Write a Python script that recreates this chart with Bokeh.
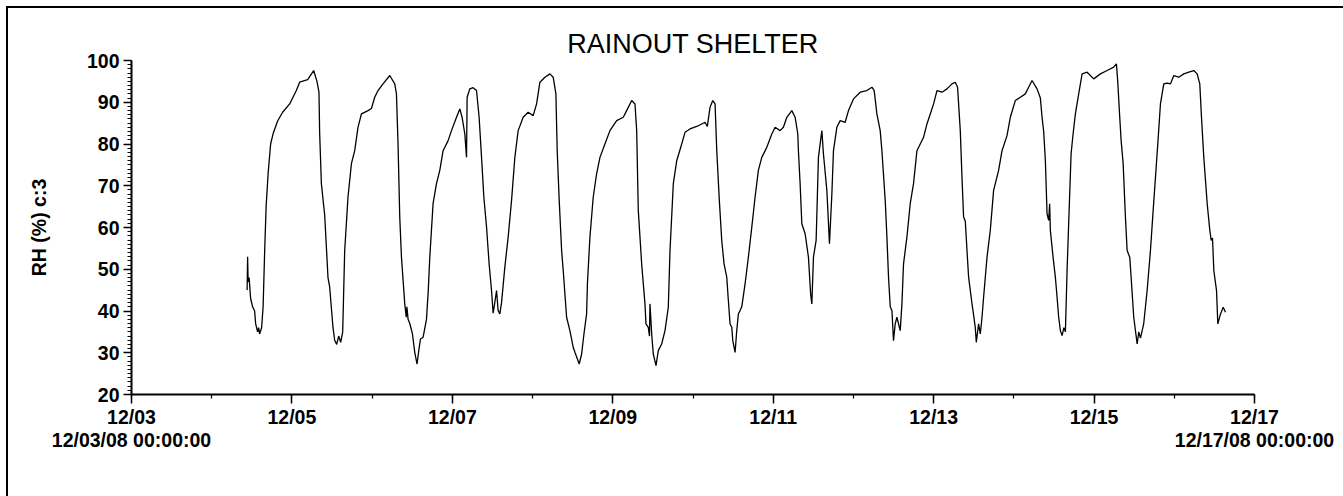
import pandas as pd
from bokeh.plotting import figure
from bokeh.models import Range1d, FixedTicker, DatetimeTickFormatter
from bokeh.embed import file_html
from bokeh.resources import INLINE

# Logger start and end of the display window
START = pd.Timestamp("2008-12-03 00:00:00")
END = pd.Timestamp("2008-12-17 00:00:00")

# Elapsed time (hours since START) and relative humidity readings (%)
elapsed_h = [
    34.59, 34.74, 34.89, 35.19, 35.64, 36.24, 36.84, 37.14, 37.73, 38.03, 38.33, 38.93,
    39.38, 39.83, 40.28, 40.88, 41.63, 42.38, 43.72, 45.22, 47.32, 49.32, 50.31, 52.71,
    54.51, 55.49, 56.09, 56.30, 56.81, 57.80, 58.79, 59.30, 60.29, 60.79, 61.39, 61.99,
    62.59, 63.19,
    63.34, 63.79, 64.78, 65.80, 66.78, 67.77, 68.79, 70.77, 71.79, 72.77, 73.76, 75.26,
    77.27, 78.76, 79.27, 79.75, 80.26, 80.77, 81.76, 82.20, 82.40, 82.75, 83.26, 84.06,
    84.75, 85.44, 85.95, 86.46, 87.24, 88.26,
    88.80, 89.25, 90.23, 91.25, 92.24, 93.23, 94.73, 95.74, 97.24, 98.23, 98.92, 99.73,
    100.24, 100.42, 101.22, 102.21, 103.23, 104.01, 104.73, 105.42, 106.23, 107.00,
    107.72, 108.20, 108.70, 109.22, 109.70, 110.20, 110.72, 111.70, 112.70, 113.71,
    114.70, 115.69, 117.19, 118.69,
    120.18, 121.20, 122.19, 123.69, 125.18, 126.17, 126.98, 127.37, 127.97, 128.69,
    129.17, 130.18, 131.17, 132.16, 132.67, 133.96, 134.68, 135.37, 136.17,
    136.41, 137.16, 138.15, 139.17, 140.16, 141.65, 143.15, 145.16, 147.13, 148.15,
    149.65, 150.64, 151.15, 151.63, 152.64, 153.63, 153.93, 154.62, 154.98, 155.13,
    155.64, 156.12, 156.93, 157.62, 158.63, 159.62, 160.61,
    161.12, 162.11, 163.13, 164.62, 165.61, 167.11, 169.11, 170.61, 171.60, 172.29,
    173.10, 173.91, 174.60, 175.11, 175.88, 176.60, 177.29, 178.10, 178.58, 179.09,
    179.60, 179.90, 180.59, 181.09, 181.57, 182.08, 182.59,
    183.58, 184.57, 185.59, 186.58, 187.56, 188.58, 190.08, 191.58, 192.57, 194.06,
    195.05, 196.07, 197.57, 198.56, 199.36, 199.54, 200.05, 200.56, 201.55, 202.54,
    203.20, 203.56, 204.04, 204.84, 205.53, 206.55, 207.03, 208.05, 208.83, 209.55,
    210.03, 211.04, 212.03, 213.53, 214.52, 216.02, 218.02, 220.03, 221.53, 222.21,
    223.02, 224.01, 224.52, 225.51, 226.02, 226.50, 227.01, 227.52, 227.99, 228.50,
    229.01, 230.00, 230.51,
    230.99, 232.00, 232.99, 233.98, 235.00, 235.99, 236.98, 238.00, 238.99, 239.98,
    241.00, 242.49, 243.99, 245.48, 246.47, 247.16, 247.97, 248.48, 248.96, 249.47,
    249.98, 250.46, 251.48, 251.96, 252.46, 252.76, 253.45, 253.96, 254.47,
    254.95, 255.97, 256.95, 257.94, 259.44, 260.46, 261.95, 262.94, 264.44, 265.94,
    267.44, 268.42, 269.44, 270.94, 271.93, 272.44, 272.92, 273.43, 273.93, 274.42,
    274.71, 274.92, 275.73, 276.42, 276.93, 277.41, 277.92, 278.43, 278.97, 279.42,
    279.92, 280.40, 281.12, 281.72, 282.41, 283.40, 284.42, 285.91, 286.90, 287.89,
    289.90, 291.90, 293.88, 294.69, 295.08, 295.68, 296.10, 296.70, 297.38, 297.89,
    298.67, 299.09, 299.87, 300.89, 301.37, 301.88, 302.86,
    303.88, 304.87, 305.68, 306.37, 307.06, 307.86, 308.85, 309.87, 310.86, 311.85,
    313.35, 314.85, 316.34, 317.84, 318.85, 319.63, 320.14, 320.83, 321.85, 322.63,
    323.05, 323.44, 323.83, 324.64, 325.03, 325.39, 325.83, 326.64, 327.33,
]
rh = [
    45, 53, 47, 48, 43, 41, 40, 37, 35, 36, 34.5, 36,
    41, 54, 65, 73, 80, 82.5, 85.5, 87.6, 89.6, 92.8, 94.8, 95.4,
    97.6, 95, 92.4, 82.5, 70.5, 63, 48, 45.7, 36, 33, 32, 34,
    32.5, 35,
    40, 54.5, 67.3, 75.3, 78.4, 84, 87.2, 88, 88.5, 91.2, 92.8, 94.4,
    96.4, 94.4, 92, 80, 62.5, 52.9, 41.7, 38.5, 41, 38, 37, 34.5,
    30.1, 27.3, 30.5, 33.3, 33.7, 38,
    45, 52.9, 65.7, 70.5, 73.7, 78.4, 80.8, 83.2, 86.4, 88.4, 86.4, 82.4,
    76.8, 91.2, 93.2, 93.5, 92.8, 86.4, 76.8, 67.3, 60.1, 51.3,
    44.9, 39.5, 42, 44.9, 40.1, 39.3, 42, 50.5, 57.7, 66.5,
    76.8, 83.2, 86.4, 87.6,
    86.8, 89.6, 94.8, 96, 96.8, 96, 92, 78.4, 66.5, 54.5,
    49.7, 38.5, 35.3, 31.3, 30.1, 27.3, 29.7, 34.5, 39.3,
    46.5, 57.7, 67.3, 72.9, 76.8, 80, 83.2, 85.6, 86.4, 88,
    90.4, 89.6, 83.2, 64.1, 51.3, 41.7, 36.9, 36.1, 34, 41.7,
    34.5, 29.7, 26.9, 30.5, 32.1, 35.3, 40.9,
    54.5, 70.5, 76, 80, 82.8, 83.6, 84.2, 84.8, 85.2, 84.2,
    88.8, 90.4, 89.6, 78.4, 66.5, 56.9, 51.3, 48.1, 42.5, 36.9,
    36.1, 32.9, 30.1, 35.3, 39.3, 40.1, 41,
    46.5, 52.9, 60.1, 67.3, 73.7, 76.8, 79.2, 82.4, 84, 83.2,
    84, 86.4, 88, 86.4, 82.4, 78.4, 70.5, 60.9, 58.5, 52.9,
    44, 41.7, 52.9, 56.9, 76.8, 83.2, 77.6, 68.9, 56.1, 68.1,
    78.4, 84, 85.6, 85.2, 88, 90.8, 92.4, 92.8, 93.6, 92.8,
    87.2, 83.2, 78.4, 66.5, 57.7, 48.1, 41, 40.1, 32.9, 36.9,
    38.5, 35.3, 41.7,
    51.3, 57.7, 65.7, 70.5, 78.4, 80, 81.6, 84.8, 87.2, 89.6,
    92.8, 92.4, 93.2, 94.4, 94.8, 93.6, 83.2, 72, 62.5, 61.5,
    54.5, 48.1, 41.7, 39, 36, 32.5, 36.9, 34.5, 38.5,
    43.3, 52.9, 59.3, 68.9, 73.7, 78.4, 82, 86.4, 90.4, 91.2,
    92, 93.6, 95.2, 93.2, 91, 86.4, 83, 76, 63.3, 61.7,
    65.7, 59.3, 52.9, 48.1, 43.3, 38.5, 35.3, 34.1, 36, 35,
    49.7, 60.9, 77.6, 82.4, 87.2, 92, 96.8, 97.2, 96.4, 95.6,
    96.8, 97.6, 98.4, 99.2, 95, 86.4, 80.8, 75.3, 62.5, 54.5,
    52.9, 48.1, 38.5, 32.1, 35, 33.5, 37,
    44.9, 54.5, 64.1, 72, 80, 89.6, 94.4, 94.6, 94.4, 96.4,
    96, 96.8, 97.2, 97.6, 96.8, 94.4, 86.4, 76.8, 65.7, 59.3,
    56.9, 57.5, 49.7, 44.9, 36.9, 38, 39.3, 40.9, 39.7,
]

# y axis ticks: labelled every 10 %, small tick every 1 %
rh_major = [20, 30, 40, 50, 60, 70, 80, 90, 100]
rh_minor = list(range(20, 101))

# full date-time stamps printed under the first and last day ticks
span_labels = ["12/03/08 00:00:00", "12/17/08 00:00:00"]

times = START + pd.to_timedelta(elapsed_h, unit="h")


def to_ms(ts):
    return float(ts.value // 10**6)


# Day ticks: labelled every second day, plain tick on the others
major_days = pd.date_range(START, END, freq="2D")
minor_days = pd.date_range(START, END, freq="1D")
major_ms = [to_ms(d) for d in major_days]
minor_ms = [to_ms(d) for d in minor_days]

FONT = "Liberation Sans"

p = figure(
    width=1343, height=496,
    x_axis_type="datetime",
    x_range=Range1d(START, END),
    y_range=Range1d(20, 100),
    title="RAINOUT SHELTER",
    output_backend="svg",
    toolbar_location=None,
    min_border_left=131, min_border_right=89,
    min_border_top=60, min_border_bottom=102,
)
# page rules along the top and left edges, pinned to the page origin
p.styles = {
    "background": ("linear-gradient(#000, #000) 6px 6px / 2px 490px no-repeat fixed, "
                   "linear-gradient(#000, #000) 6px 6px / 1337px 2px no-repeat fixed, #fff"),
}
p.background_fill_color = "white"
p.border_fill_color = None
p.outline_line_color = None
p.xgrid.visible = False
p.ygrid.visible = False

p.title.align = "center"
p.title.text_font = FONT
p.title.text_font_size = "27px"
p.title.text_font_style = "normal"
p.title.text_color = "black"
p.title.standoff = 4

p.line(times, rh, line_color="black", line_width=1.3)

# y axis
ya = p.yaxis[0]
ya.ticker = FixedTicker(ticks=rh_major, minor_ticks=rh_minor)
ya.axis_label = "RH (%) c:3"
ya.axis_label_text_font = FONT
ya.axis_label_text_font_style = "bold"
ya.axis_label_text_font_size = "19.5px"
ya.axis_label_text_color = "black"
ya.axis_label_standoff = 34

# x axis
xa = p.xaxis[0]
xa.ticker = FixedTicker(ticks=major_ms, minor_ticks=minor_ms)
xa.formatter = DatetimeTickFormatter(days="%m/%d", months="%m/%d", hours="%m/%d",
                                     years="%m/%d")
xa.major_label_overrides = {
    major_ms[0]: "12/03\n" + span_labels[0],
    major_ms[-1]: "12/17\n" + span_labels[1],
}
xa.major_label_text_line_height = 1.05

for ax in (xa, ya):
    ax.axis_line_color = "black"
    ax.axis_line_width = 2
    ax.major_tick_line_color = "black"
    ax.major_tick_line_width = 1.5
    ax.minor_tick_line_color = "black"
    ax.minor_tick_line_width = 1.2
    ax.major_tick_in = 0
    ax.minor_tick_in = 0
    ax.major_label_text_font = FONT
    ax.major_label_text_font_style = "bold"
    ax.major_label_text_font_size = "19.5px"
    ax.major_label_text_color = "black"

ya.major_tick_out = 8
ya.minor_tick_out = 4
ya.major_label_standoff = 4
xa.major_tick_out = 9
xa.minor_tick_out = 4
xa.major_label_standoff = 2

open("out.html", "w").write(file_html(p, INLINE))
